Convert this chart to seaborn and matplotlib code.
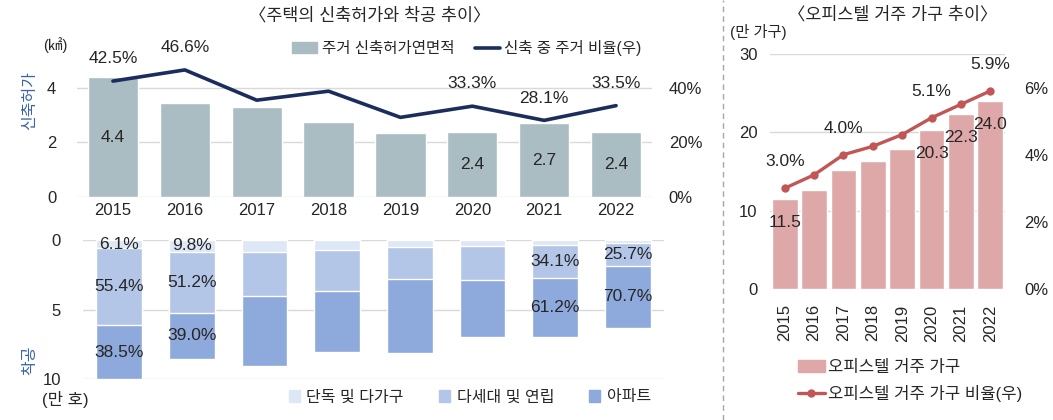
import numpy as np
import seaborn as sns
import matplotlib.pyplot as plt
from matplotlib.patches import Patch
from matplotlib.lines import Line2D

years = ["2015", "2016", "2017", "2018", "2019", "2020", "2021", "2022"]

# 주거 신축허가연면적 (㎢), 신축 중 주거 비율 (%)
permit_area = [4.4, 3.45, 3.3, 2.75, 2.35, 2.4, 2.7, 2.4]
permit_share = [42.5, 46.6, 35.5, 38.8, 29.2, 33.3, 28.1, 33.5]
area_labels = ["4.4", None, None, None, None, "2.4", "2.7", "2.4"]
share_labels = ["42.5%", "46.6%", None, None, None, "33.3%", "28.1%", "33.5%"]

# 착공 (만 호)
start_detached = [0.61, 0.84, 0.84, 0.72, 0.48, 0.41, 0.33, 0.23]
start_multi = [5.54, 4.39, 3.16, 2.93, 2.33, 2.45, 2.39, 1.62]
start_apt = [3.85, 3.35, 5.04, 4.41, 5.32, 4.10, 4.28, 4.46]
detached_pct = ["6.1%", "9.8%", None, None, None, None, None, None]
multi_pct = ["55.4%", "51.2%", None, None, None, None, "34.1%", "25.7%"]
apt_pct = ["38.5%", "39.0%", None, None, None, None, "61.2%", "70.7%"]

# 오피스텔 거주 가구 (만 가구), 비율 (%)
officetel_hh = [11.5, 12.7, 15.2, 16.3, 17.9, 20.3, 22.3, 24.0]
officetel_share = [3.0, 3.4, 4.0, 4.25, 4.6, 5.1, 5.5, 5.9]
hh_labels = ["11.5", None, None, None, None, "20.3", "22.3", "24.0"]
hh_share_labels = ["3.0%", None, "4.0%", None, None, "5.1%", None, "5.9%"]

sns.set_style("white")
plt.rcParams["font.family"] = ["Liberation Sans", "Noto Sans CJK KR", "DejaVu Sans"]
plt.rcParams["axes.unicode_minus"] = False

W, H = 1053, 420
fig = plt.figure(figsize=(W / 100, H / 100), dpi=100)


def rect(x0, x1, ytop, ybot):
    return [x0 / W, 1 - ybot / H, (x1 - x0) / W, (ybot - ytop) / H]


grid_c = "#D9D9D9"
bar_gray = "#AABDC3"
navy = "#1B2D5C"
c_det = "#DEE7F5"
c_multi = "#B3C6E8"
c_apt = "#8EA9DB"
pink = "#DFA8A8"
red = "#C25656"
blue_lbl = "#3A64A8"


def clean(ax):
    for s in ax.spines.values():
        s.set_visible(False)
    ax.tick_params(length=0)


# ---- 신축허가 ----
ax1 = fig.add_axes(rect(77, 652, 47, 197))
sns.barplot(x=years, y=permit_area, color=bar_gray, saturation=1, width=0.7, ax=ax1)
ax1t = ax1.twinx()
sns.lineplot(x=np.arange(len(years)), y=permit_share, color=navy, linewidth=2.6, ax=ax1t)
ax1.set_xlim(-0.5, 7.5)
ax1.set_ylim(0, 5.5)
ax1t.set_ylim(0, 55)
ax1.set_yticks([0, 2, 4])
ax1t.set_yticks([0, 20, 40])
ax1t.set_yticklabels(["0%", "20%", "40%"])
ax1.yaxis.grid(True, color=grid_c, lw=1)
ax1.set_axisbelow(True)
ax1.set_ylabel("")
ax1t.set_ylabel("")
for a in (ax1, ax1t):
    clean(a)
ax1.tick_params(axis="y", labelsize=12, pad=15)
ax1t.tick_params(axis="y", labelsize=12, pad=12)
ax1.tick_params(axis="x", labelsize=12, pad=4)
for i, lab in enumerate(area_labels):
    if lab:
        ax1.text(i, permit_area[i] / 2, lab, ha="center", va="center", fontsize=12.5)
for i, lab in enumerate(share_labels):
    if lab:
        ax1t.annotate(lab, (i, permit_share[i]), xytext=(0, 16), textcoords="offset points",
                      ha="center", va="center", fontsize=12.5)

# ---- 착공 ----
ax2 = fig.add_axes(rect(83, 664, 240, 379))
cum1 = np.array(start_detached)
cum2 = cum1 + np.array(start_multi)
cum3 = cum2 + np.array(start_apt)
sns.barplot(x=years, y=cum3, color=c_apt, saturation=1, width=0.63, ax=ax2)
sns.barplot(x=years, y=cum2, color=c_multi, saturation=1, width=0.63, ax=ax2)
sns.barplot(x=years, y=cum1, color=c_det, saturation=1, width=0.63, ax=ax2)
ax2.set_xlim(-0.5, 7.5)
ax2.set_ylim(10, 0)
ax2.set_yticks([0, 5, 10])
ax2.set_xticks([])
ax2.yaxis.grid(True, color=grid_c, lw=1)
ax2.set_axisbelow(True)
clean(ax2)
ax2.tick_params(axis="y", labelsize=12, pad=16)
for i in range(len(years)):
    segs = [(0, cum1[i], detached_pct[i]), (cum1[i], cum2[i], multi_pct[i]), (cum2[i], cum3[i], apt_pct[i])]
    for lo, hi, lab in segs:
        if lab:
            ax2.text(i, (lo + hi) / 2, lab, ha="center", va="center", fontsize=12.5)

# ---- 오피스텔 ----
ax3 = fig.add_axes(rect(770, 1005, 54, 289))
sns.barplot(x=years, y=officetel_hh, color=pink, saturation=1, width=0.88, ax=ax3)
ax3t = ax3.twinx()
sns.lineplot(x=np.arange(len(years)), y=officetel_share, color=red, linewidth=2.4,
             marker="o", markersize=6, markeredgewidth=0, ax=ax3t)
ax3.set_xlim(-0.5, 7.5)
ax3.set_ylim(0, 30)
ax3t.set_ylim(0, 7)
ax3.set_yticks([0, 10, 20, 30])
ax3t.set_yticks([0, 2, 4, 6])
ax3t.set_yticklabels(["0%", "2%", "4%", "6%"])
ax3.yaxis.grid(True, color=grid_c, lw=1)
ax3.set_axisbelow(True)
ax3t.set_ylabel("")
for a in (ax3, ax3t):
    clean(a)
ax3.tick_params(axis="y", labelsize=12, pad=9)
ax3t.tick_params(axis="y", labelsize=12, pad=14)
ax3.tick_params(axis="x", labelsize=12, pad=11, rotation=90)
for i, lab in enumerate(hh_labels):
    if lab:
        ax3.annotate(lab, (i, officetel_hh[i]), xytext=(0, -17), textcoords="offset points",
                     ha="center", va="center", fontsize=12.5)
for i, lab in enumerate(hh_share_labels):
    if lab:
        ax3t.annotate(lab, (i, officetel_share[i]), xytext=(0, 19), textcoords="offset points",
                      ha="center", va="center", fontsize=12.5)

# ---- 제목, 단위 ----
fig.text(370 / W, 1 - 15 / H, "〈주택의 신축허가와 착공 추이〉", ha="center", va="center", fontsize=12.5)
fig.text(893 / W, 1 - 14 / H, "〈오피스텔 거주 가구 추이〉", ha="center", va="center", fontsize=12.5)
fig.text(55 / W, 1 - 45 / H, "(㎢)", ha="center", va="center", fontsize=10.5)
fig.text(30 / W, 1 - 100 / H, "신축허가", ha="center", va="center", rotation=90, fontsize=11.5, color=blue_lbl)
fig.text(30 / W, 1 - 360 / H, "착공", ha="center", va="center", rotation=90, fontsize=11.5, color=blue_lbl)
fig.text(65 / W, 1 - 400 / H, "(만 호)", ha="center", va="center", fontsize=12)
fig.text(758 / W, 1 - 32 / H, "(만 가구)", ha="center", va="center", fontsize=11)

fig.add_artist(Line2D([723 / W, 723 / W], [0, 1], transform=fig.transFigure,
                      color="#A6A6A6", lw=1, ls=(0, (4, 3))))

# ---- 범례 ----
fig.legend(handles=[Patch(color=bar_gray, label="주거 신축허가연면적"),
                    Line2D([], [], color=navy, lw=2.6, label="신축 중 주거 비율(우)")],
           loc="center", bbox_to_anchor=(467 / W, 1 - 48 / H), ncol=2, frameon=False,
           fontsize=11.2, handlelength=1.6, columnspacing=1.3, handletextpad=0.3)
fig.legend(handles=[Patch(color=c_det, label="단독 및 다가구"),
                    Patch(color=c_multi, label="다세대 및 연립"),
                    Patch(color=c_apt, label="아파트")],
           loc="center", bbox_to_anchor=(470 / W, 1 - 397 / H), ncol=3, frameon=False,
           fontsize=11.5, handlelength=0.7, handleheight=0.7, columnspacing=2.2, handletextpad=0.4)
fig.legend(handles=[Patch(color=pink, label="오피스텔 거주 가구"),
                    Line2D([], [], color=red, lw=2.4, marker="o", markersize=5, label="오피스텔 거주 가구 비율(우)")],
           loc="center left", bbox_to_anchor=(783 / W, 1 - 381 / H), ncol=1, frameon=False,
           fontsize=12, handlelength=1.6, handletextpad=0.2, labelspacing=0.6)

fig.savefig("out.png", dpi=100)
